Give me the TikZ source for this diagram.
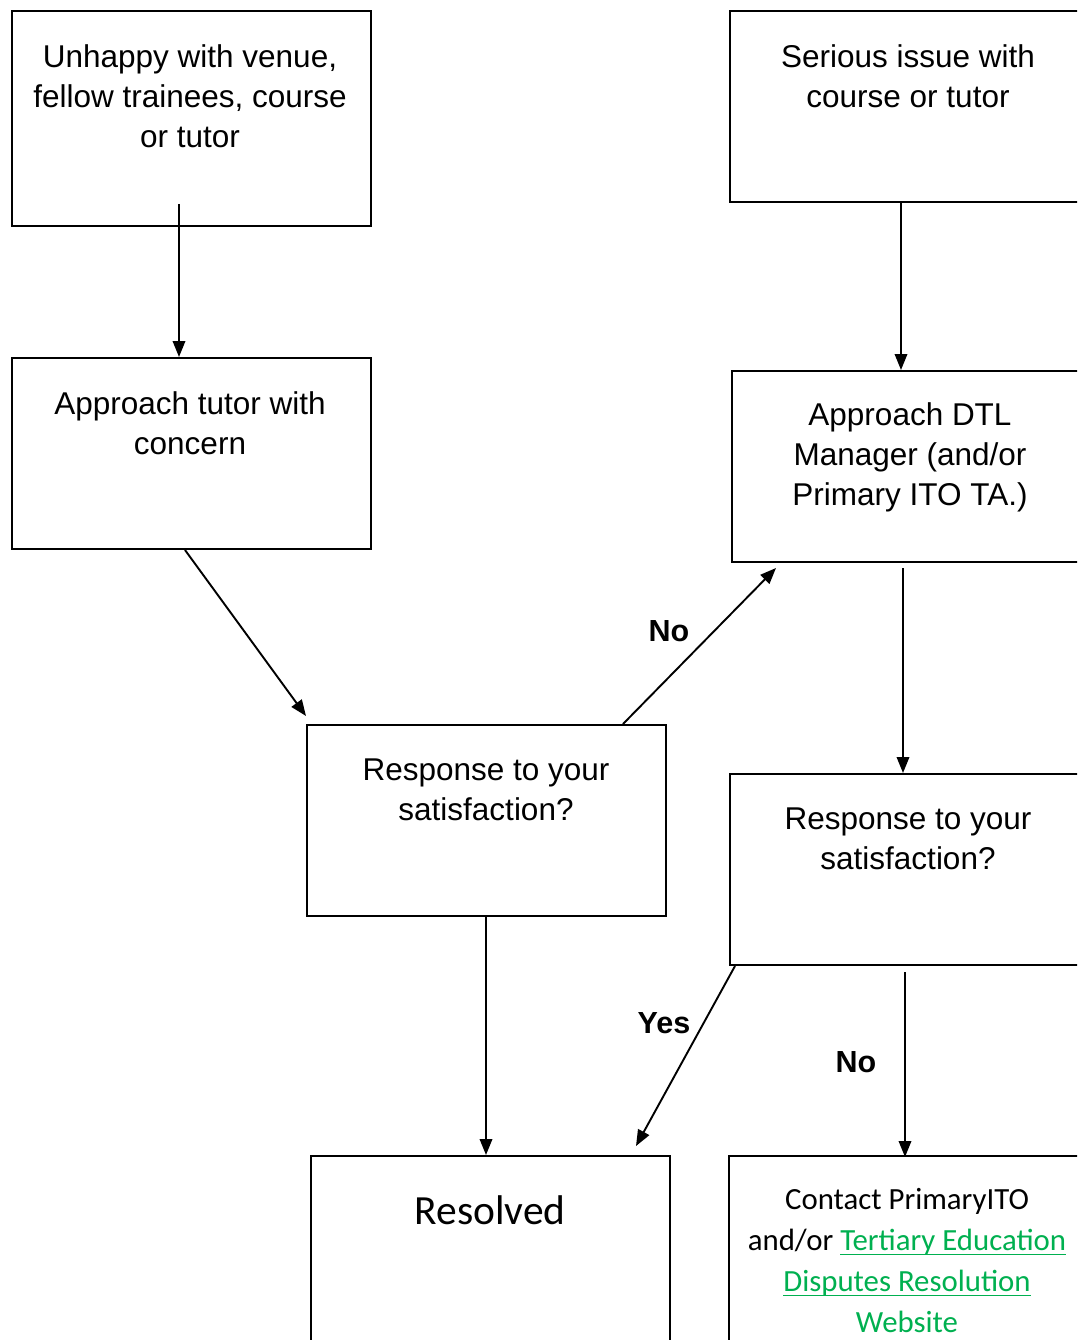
\documentclass[tikz,border=0pt]{standalone}
\usepackage{fontspec}
\setmainfont{Liberation Sans}
\newfontfamily\calfont{Carlito}
\usetikzlibrary{arrows.meta,calc}
\definecolor{linkgreen}{RGB}{0,176,80}
\newcommand\gul[1]{\setbox0\hbox{#1}\rlap{\rule[-4.5pt]{\wd0}{1.7pt}}\box0}
\tikzset{
  box/.style={draw=black, line width=2pt, anchor=north west, inner sep=0pt},
  txt/.style={align=center, font=\fontsize{31.5}{40}\selectfont, inner sep=0pt},
  lbl/.style={font=\fontsize{30.5}{36}\selectfont\bfseries, inner sep=0pt},
  arr/.style={line width=1.9pt, -{Triangle[length=16pt,width=12.5pt]}}
}
\begin{document}
\begin{tikzpicture}[x=1pt,y=-1pt]
\path[use as bounding box, fill=white] (0,0) rectangle (1077,1340);
\clip (0,0) rectangle (1077,1340);
% boxes
\node[box, minimum width=359pt, minimum height=215pt] (A) at (11,10) {};
\node[box, minimum width=359pt, minimum height=191pt] (B) at (11,357) {};
\node[box, minimum width=359pt, minimum height=191pt] (C) at (306,724) {};
\node[box, minimum width=361pt, minimum height=191pt] (D) at (729,10) {};
\node[box, minimum width=359pt, minimum height=191pt] (E) at (731,370) {};
\node[box, minimum width=361pt, minimum height=191pt] (F) at (729,773) {};
\node[box, minimum width=359pt, minimum height=210pt] (G) at (310,1155) {};
\node[box, minimum width=362pt, minimum height=210pt] (H) at (728,1155) {};
% texts
\node[txt] (At) at (190,96) {Unhappy with venue,\\fellow trainees, course\\or tutor};
\node[txt] (Bt) at (190,423) {Approach tutor with\\concern};
\node[txt] (Ct) at (486,790) {Response to your\\satisfaction?};
\node[txt] (Dt) at (908,76) {Serious issue with\\course or tutor};
\node[txt] (Et) at (910,457) {Approach DTL\\Manager (and/or\\Primary ITO TA.)};
\node[txt] (Ft) at (908,839) {Response to your\\satisfaction?};
\node[txt, font=\calfont\fontsize{41.5}{48}\selectfont] (Gt) at (490,1210) {Resolved};
\node[txt, font=\calfont\fontsize{30.8}{41}\selectfont] (Ht) at (907,1261) {Contact PrimaryITO\\and/or \textcolor{linkgreen}{\gul{Tertiary Education}}\\\textcolor{linkgreen}{\gul{Disputes Resolution}}\\\textcolor{linkgreen}{Website}};
% labels
\node[lbl] (no1) at (669,631) {No};
\node[lbl] (yes) at (664,1023) {Yes};
\node[lbl] (no2) at (856,1062) {No};
% connectors
\draw[arr] ($(A.south)+(-12.5,-23)$) -- ($(B.north)+(-12.5,0)$);
\draw[arr] ($(B.south)+(-6.5,0)$) -- ($(C.north west)+(0,-8)$);
\draw[arr] ($(C.north west)+(317,0)$) -- ($(E.south west)+(45,5)$);
\draw[arr] ($(D.south west)+(172,0)$) -- ($(E.north west)+(170,0)$);
\draw[arr] ($(E.south west)+(172,5)$) -- ($(F.north west)+(174,0)$);
\draw[arr] ($(C.south west)+(180,0)$) -- ($(G.north west)+(176,0)$);
\draw[arr] ($(F.south west)+(6,0)$) -- ($(G.north east)+(-35,-9)$);
\draw[arr] ($(F.south west)+(176,6)$) -- ($(H.north west)+(177,2)$);
\end{tikzpicture}
\end{document}
